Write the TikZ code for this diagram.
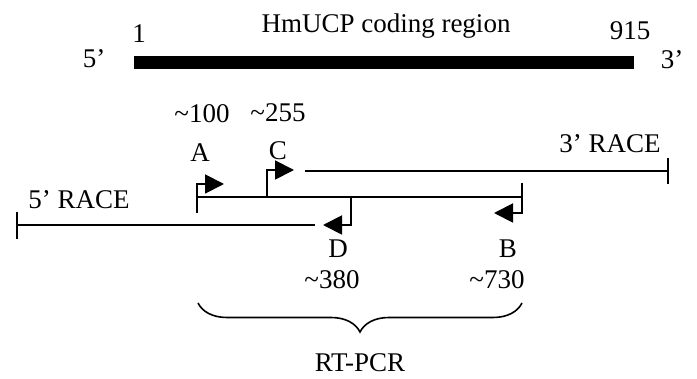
\documentclass[tikz,border=0pt]{standalone}
\usepackage{fontspec}
\setmainfont{Liberation Serif}
\usetikzlibrary{arrows.meta,decorations.pathreplacing}
\begin{document}
\begin{tikzpicture}[x=1pt,y=-1pt,
  lbl/.style={anchor=base,inner sep=0pt,font=\fontsize{27}{32}\selectfont},
  seq/.style={line width=1.9pt},
  primer/.style={line width=1.9pt,-{Triangle[length=19pt,width=19pt]}},
  brc/.style={line width=1.6pt,decorate,decoration={brace,mirror,amplitude=29pt}}]
\useasboundingbox (0,0) rectangle (697,379);

% coding region
\coordinate (barL) at (134,62.5);
\coordinate (barR) at (634,62.5);
\draw[line width=13pt] (barL) -- (barR);
\node[lbl] (title) at (386,33) {HmUCP coding region};
\node[lbl] (five) at (94,68) {5’};
\node[lbl] (three) at (672,69) {3’};
\node[lbl] (start) at (139,43) {1};
\node[lbl] (stop) at (630,40) {915};

% RT-PCR product
\coordinate (rtL) at (197,197);
\coordinate (rtR) at (522,197);
\draw[seq] (rtL) -- (rtR);
\draw[seq] (197,197) -- (197,213);
\draw[seq] (522,183) -- (522,197);

% primers
\coordinate (Atip) at (224,184);
\coordinate (Cfoot) at (267,197);
\coordinate (Ctip) at (294,170);
\coordinate (Dfoot) at (351,197);
\coordinate (Dtip) at (323,225);
\coordinate (Btip) at (494,213);
\draw[primer] (rtL) |- (Atip);
\draw[primer] (Cfoot) |- (Ctip);
\draw[primer] (Dfoot) |- (Dtip);
\draw[primer] (rtR) |- (Btip);

% 3' RACE
\coordinate (r3L) at (305,171);
\coordinate (r3R) at (668,171);
\draw[seq] (r3L) -- (r3R);
\draw[seq] (668,158) -- (668,184);

% 5' RACE
\coordinate (r5L) at (17,225);
\coordinate (r5R) at (315,225);
\draw[seq] (r5L) -- (r5R);
\draw[seq] (17,212) -- (17,239);

% labels
\node[lbl] (pA) at (200,162) {A};
\node[lbl] (pC) at (278,160) {C};
\node[lbl] (pD) at (338,258) {D};
\node[lbl] (pB) at (508,258) {B};
\node[lbl] (nA) at (202,123) {\textasciitilde100};
\node[lbl] (nC) at (278,122) {\textasciitilde255};
\node[lbl] (nD) at (332,289) {\textasciitilde380};
\node[lbl] (nB) at (497,289) {\textasciitilde730};
\node[lbl] (race3) at (610,153) {3’ RACE};
\node[lbl] (race5) at (79,209) {5’ RACE};

% RT-PCR span
\coordinate (brL) at (198,303);
\coordinate (brR) at (522,303);
\draw[brc] (brL) -- (brR);
\node[lbl] (rtpcr) at (360,372) {RT-PCR};
\end{tikzpicture}
\end{document}
